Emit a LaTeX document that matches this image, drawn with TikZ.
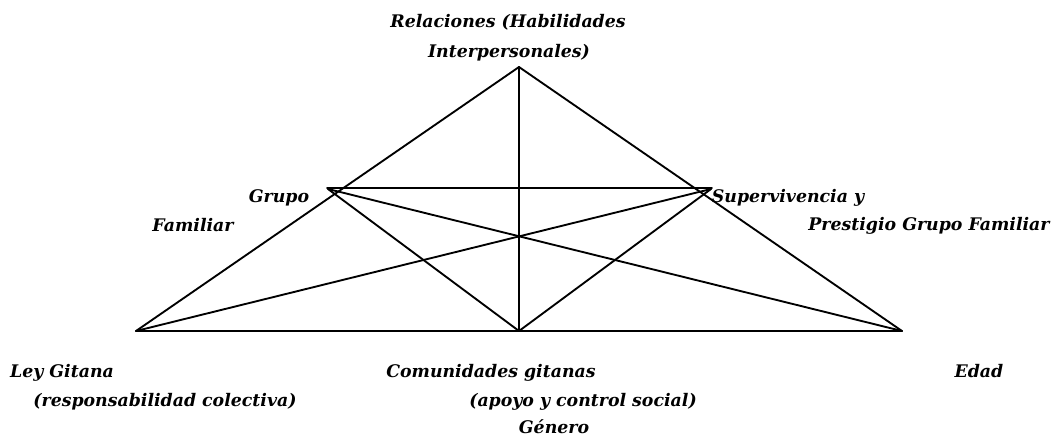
\documentclass[tikz,border=0pt]{standalone}
\usepackage{fontspec}
\setmainfont{DejaVu Serif}
\begin{document}
\begin{tikzpicture}[x=0.75pt,y=-0.75pt,
  edge/.style={line width=1.4pt,line cap=round,line join=round},
  lbl/.style={inner sep=0pt,anchor=base,font=\fontsize{13pt}{15pt}\selectfont\bfseries\itshape}]
\useasboundingbox (0,0) rectangle (1061,439);
% vertices
\coordinate (T) at (519,67);
\coordinate (L) at (136,331);
\coordinate (M) at (519,331);
\coordinate (R) at (902,331);
\coordinate (G) at (328,189);
\coordinate (S) at (711,189);
\coordinate (Gx) at (327,188);
\coordinate (Sx) at (712,188);
% edges
\draw[edge] (T) -- (L);
\draw[edge] (T) -- (R);
\draw[edge] (L) -- (R);
\draw[edge] (T) -- (M);
\draw[edge] (Gx) -- (Sx);
\draw[edge] (G) -- (M);
\draw[edge] (G) -- (R);
\draw[edge] (S) -- (M);
\draw[edge] (S) -- (L);
% labels
\node[lbl] (rel1) at (508,27) {Relaciones (Habilidades};
\node[lbl] (rel2) at (509,57) {Interpersonales)};
\node[lbl] (gru1) at (279,202) {Grupo};
\node[lbl] (gru2) at (193,231) {Familiar};
\node[lbl] (sup1) at (788,202) {Supervivencia y};
\node[lbl] (sup2) at (929,230) {Prestigio Grupo Familiar};
\node[lbl] (ley1) at (62,377) {Ley Gitana};
\node[lbl] (ley2) at (165,406) {(responsabilidad colectiva)};
\node[lbl] (com1) at (491,377) {Comunidades gitanas};
\node[lbl] (com2) at (583,406) {(apoyo y control social)};
\node[lbl] (gen) at (554,433) {Género};
\node[lbl] (eda) at (979,377) {Edad};
\end{tikzpicture}
\end{document}
